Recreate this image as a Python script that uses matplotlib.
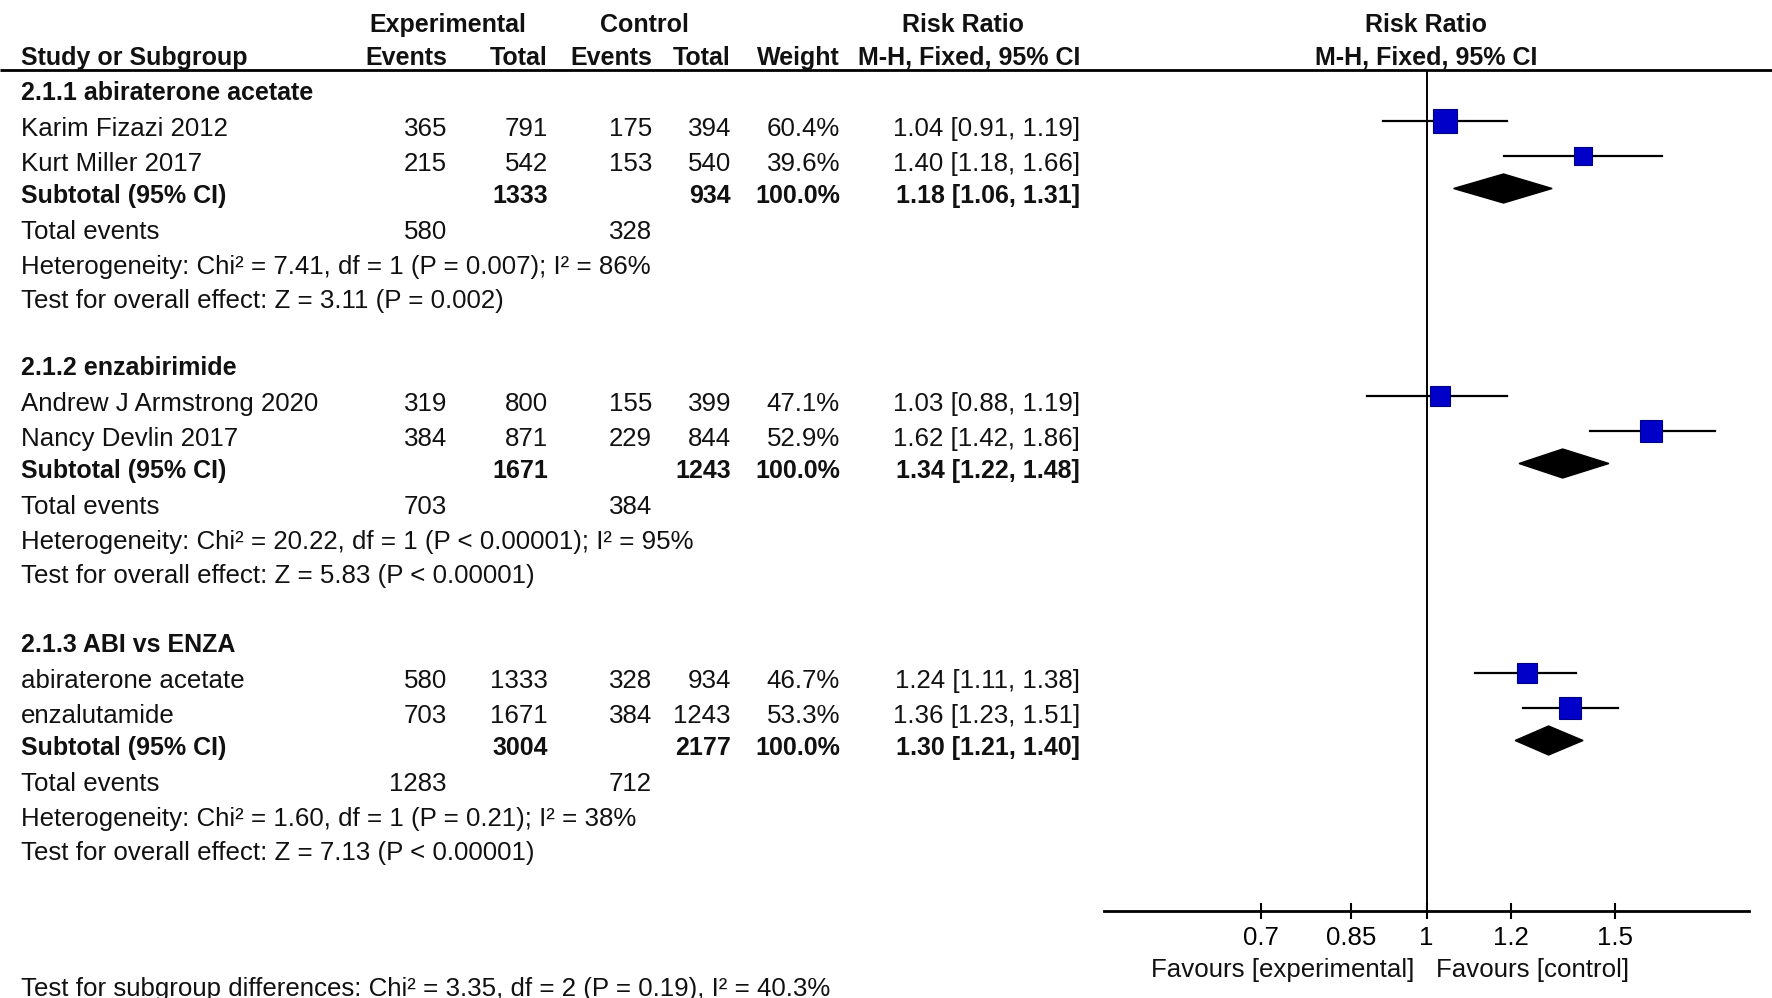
import matplotlib.pyplot as plt
from matplotlib.patches import Polygon

plt.rcParams['font.family'] = ['Liberation Sans', 'DejaVu Sans']

# study level data
studies = ['Karim Fizazi 2012', 'Kurt Miller 2017',
           'Andrew J Armstrong 2020', 'Nancy Devlin 2017',
           'abiraterone acetate', 'enzalutamide']
study_group = [0, 0, 1, 1, 2, 2]
exp_events = [365, 215, 319, 384, 580, 703]
exp_total = [791, 542, 800, 871, 1333, 1671]
ctl_events = [175, 153, 155, 229, 328, 384]
ctl_total = [394, 540, 399, 844, 934, 1243]
weights = [60.4, 39.6, 47.1, 52.9, 46.7, 53.3]
rr = [1.04, 1.40, 1.03, 1.62, 1.24, 1.36]
rr_lo = [0.91, 1.18, 0.88, 1.42, 1.11, 1.23]
rr_hi = [1.19, 1.66, 1.19, 1.86, 1.38, 1.51]

# subgroup data
groups = ['2.1.1 abiraterone acetate', '2.1.2 enzabirimide', '2.1.3 ABI vs ENZA']
sub_exp_total = [1333, 1671, 3004]
sub_ctl_total = [934, 1243, 2177]
sub_rr = [1.18, 1.34, 1.30]
sub_lo = [1.06, 1.22, 1.21]
sub_hi = [1.31, 1.48, 1.40]
tot_exp_events = [580, 703, 1283]
tot_ctl_events = [328, 384, 712]
heterogeneity = ['Chi\u00b2 = 7.41, df = 1 (P = 0.007); I\u00b2 = 86%',
                 'Chi\u00b2 = 20.22, df = 1 (P < 0.00001); I\u00b2 = 95%',
                 'Chi\u00b2 = 1.60, df = 1 (P = 0.21); I\u00b2 = 38%']
overall = ['Z = 3.11 (P = 0.002)', 'Z = 5.83 (P < 0.00001)', 'Z = 7.13 (P < 0.00001)']
subgroup_test = 'Chi\u00b2 = 3.35, df = 2 (P = 0.19), I\u00b2 = 40.3%'

tick_vals = [0.7, 0.85, 1, 1.2, 1.5]
tick_labels = ['0.7', '0.85', '1', '1.2', '1.5']

# layout (pixels from top)
W, H = 1772, 998
group_top = [100, 375, 652]
row_off = [0, 36, 71, 103, 139, 174, 208]
col_x = [447, 548, 652, 731, 840, 1080]   # right edges of number columns
FS = 18.6
FS_HEAD = 18
marker_shift = 14.5

fig = plt.figure(figsize=(W / 100, H / 100), dpi=100)
ax = fig.add_axes([0, 0, 1, 1])
ax.set_xlim(0, W)
ax.set_ylim(H, 0)
ax.axis('off')


def put(x, y, s, ha='left', bold=False, size=FS):
    ax.text(x, y, s, ha=ha, va='baseline', fontsize=size,
            fontweight='bold' if bold else 'normal', color='#111111')


# headers
put(448, 32, 'Experimental', 'center', True, FS_HEAD)
put(644, 32, 'Control', 'center', True, FS_HEAD)
put(963, 32, 'Risk Ratio', 'center', True, FS_HEAD)
put(1426, 32, 'Risk Ratio', 'center', True, FS_HEAD)
put(21, 65, 'Study or Subgroup', bold=True, size=FS_HEAD)
for x, s in zip(col_x, ['Events', 'Total', 'Events', 'Total', 'Weight', 'M-H, Fixed, 95% CI']):
    put(x, 65, s, 'right', True, FS_HEAD)
put(1426, 65, 'M-H, Fixed, 95% CI', 'center', True, FS_HEAD)
ax.plot([0, W], [70, 70], color='black', lw=2, solid_capstyle='butt')

# table rows
study_y = []
for g in range(3):
    top = group_top[g]
    put(21, top + row_off[0], groups[g], bold=True, size=FS_HEAD)
    idx = [i for i in range(len(studies)) if study_group[i] == g]
    for k, i in enumerate(idx):
        y = top + row_off[1 + k]
        study_y.append(y)
        put(21, y, studies[i])
        vals = [exp_events[i], exp_total[i], ctl_events[i], ctl_total[i],
                '%.1f%%' % weights[i], '%.2f [%.2f, %.2f]' % (rr[i], rr_lo[i], rr_hi[i])]
        for x, v in zip(col_x, vals):
            put(x, y, str(v), 'right')
    y = top + row_off[3]
    put(21, y, 'Subtotal (95% CI)', bold=True, size=FS_HEAD)
    put(col_x[1], y, str(sub_exp_total[g]), 'right', True, FS_HEAD)
    put(col_x[3], y, str(sub_ctl_total[g]), 'right', True, FS_HEAD)
    put(col_x[4], y, '100.0%', 'right', True, FS_HEAD)
    put(col_x[5], y, '%.2f [%.2f, %.2f]' % (sub_rr[g], sub_lo[g], sub_hi[g]), 'right', True, FS_HEAD)
    y = top + row_off[4]
    put(21, y, 'Total events')
    put(col_x[0], y, str(tot_exp_events[g]), 'right')
    put(col_x[2], y, str(tot_ctl_events[g]), 'right')
    put(21, top + row_off[5], 'Heterogeneity: ' + heterogeneity[g])
    put(21, top + row_off[6], 'Test for overall effect: ' + overall[g])

put(21, 996, 'Test for subgroup differences: ' + subgroup_test)

# forest plot panel
fx0, fx1, fy0, fy1 = 1104, 1749, 70, 911
fa = fig.add_axes([fx0 / W, (H - fy1) / H, (fx1 - fx0) / W, (fy1 - fy0) / H])
fa.set_facecolor('none')
fa.set_xscale('log')
fa.set_xlim(0.5, 2)
fa.set_ylim(fy1, fy0)
for s in ['top', 'left', 'right']:
    fa.spines[s].set_visible(False)
fa.spines['bottom'].set_linewidth(2)
fa.set_yticks([])
fa.set_xticks(tick_vals)
fa.set_xticklabels(tick_labels)
fa.minorticks_off()
fa.tick_params(axis='x', direction='inout', length=12, width=1.5,
               labelsize=FS, pad=5, colors='black')
fa.axvline(1, color='black', lw=1.4)

for i in range(len(studies)):
    y = study_y[i] - marker_shift
    fa.plot([rr_lo[i], rr_hi[i]], [y, y], color='black', lw=1.6)
    side = 25 * (weights[i] / 60.4) ** 0.85 / 1.389
    fa.plot(rr[i], y, marker='s', ms=side, color='#0000c8',
            markeredgecolor='#000080', markeredgewidth=0.8)

for g in range(3):
    y = group_top[g] + row_off[3] - marker_shift
    h = 14.5
    fa.add_patch(Polygon([(sub_lo[g], y), (sub_rr[g], y - h),
                          (sub_hi[g], y), (sub_rr[g], y + h)],
                         closed=True, facecolor='black', edgecolor='black'))

put(1414, 977, 'Favours [experimental]', 'right')
put(1436, 977, 'Favours [control]', 'left')

fig.savefig('out.png', dpi=100)
